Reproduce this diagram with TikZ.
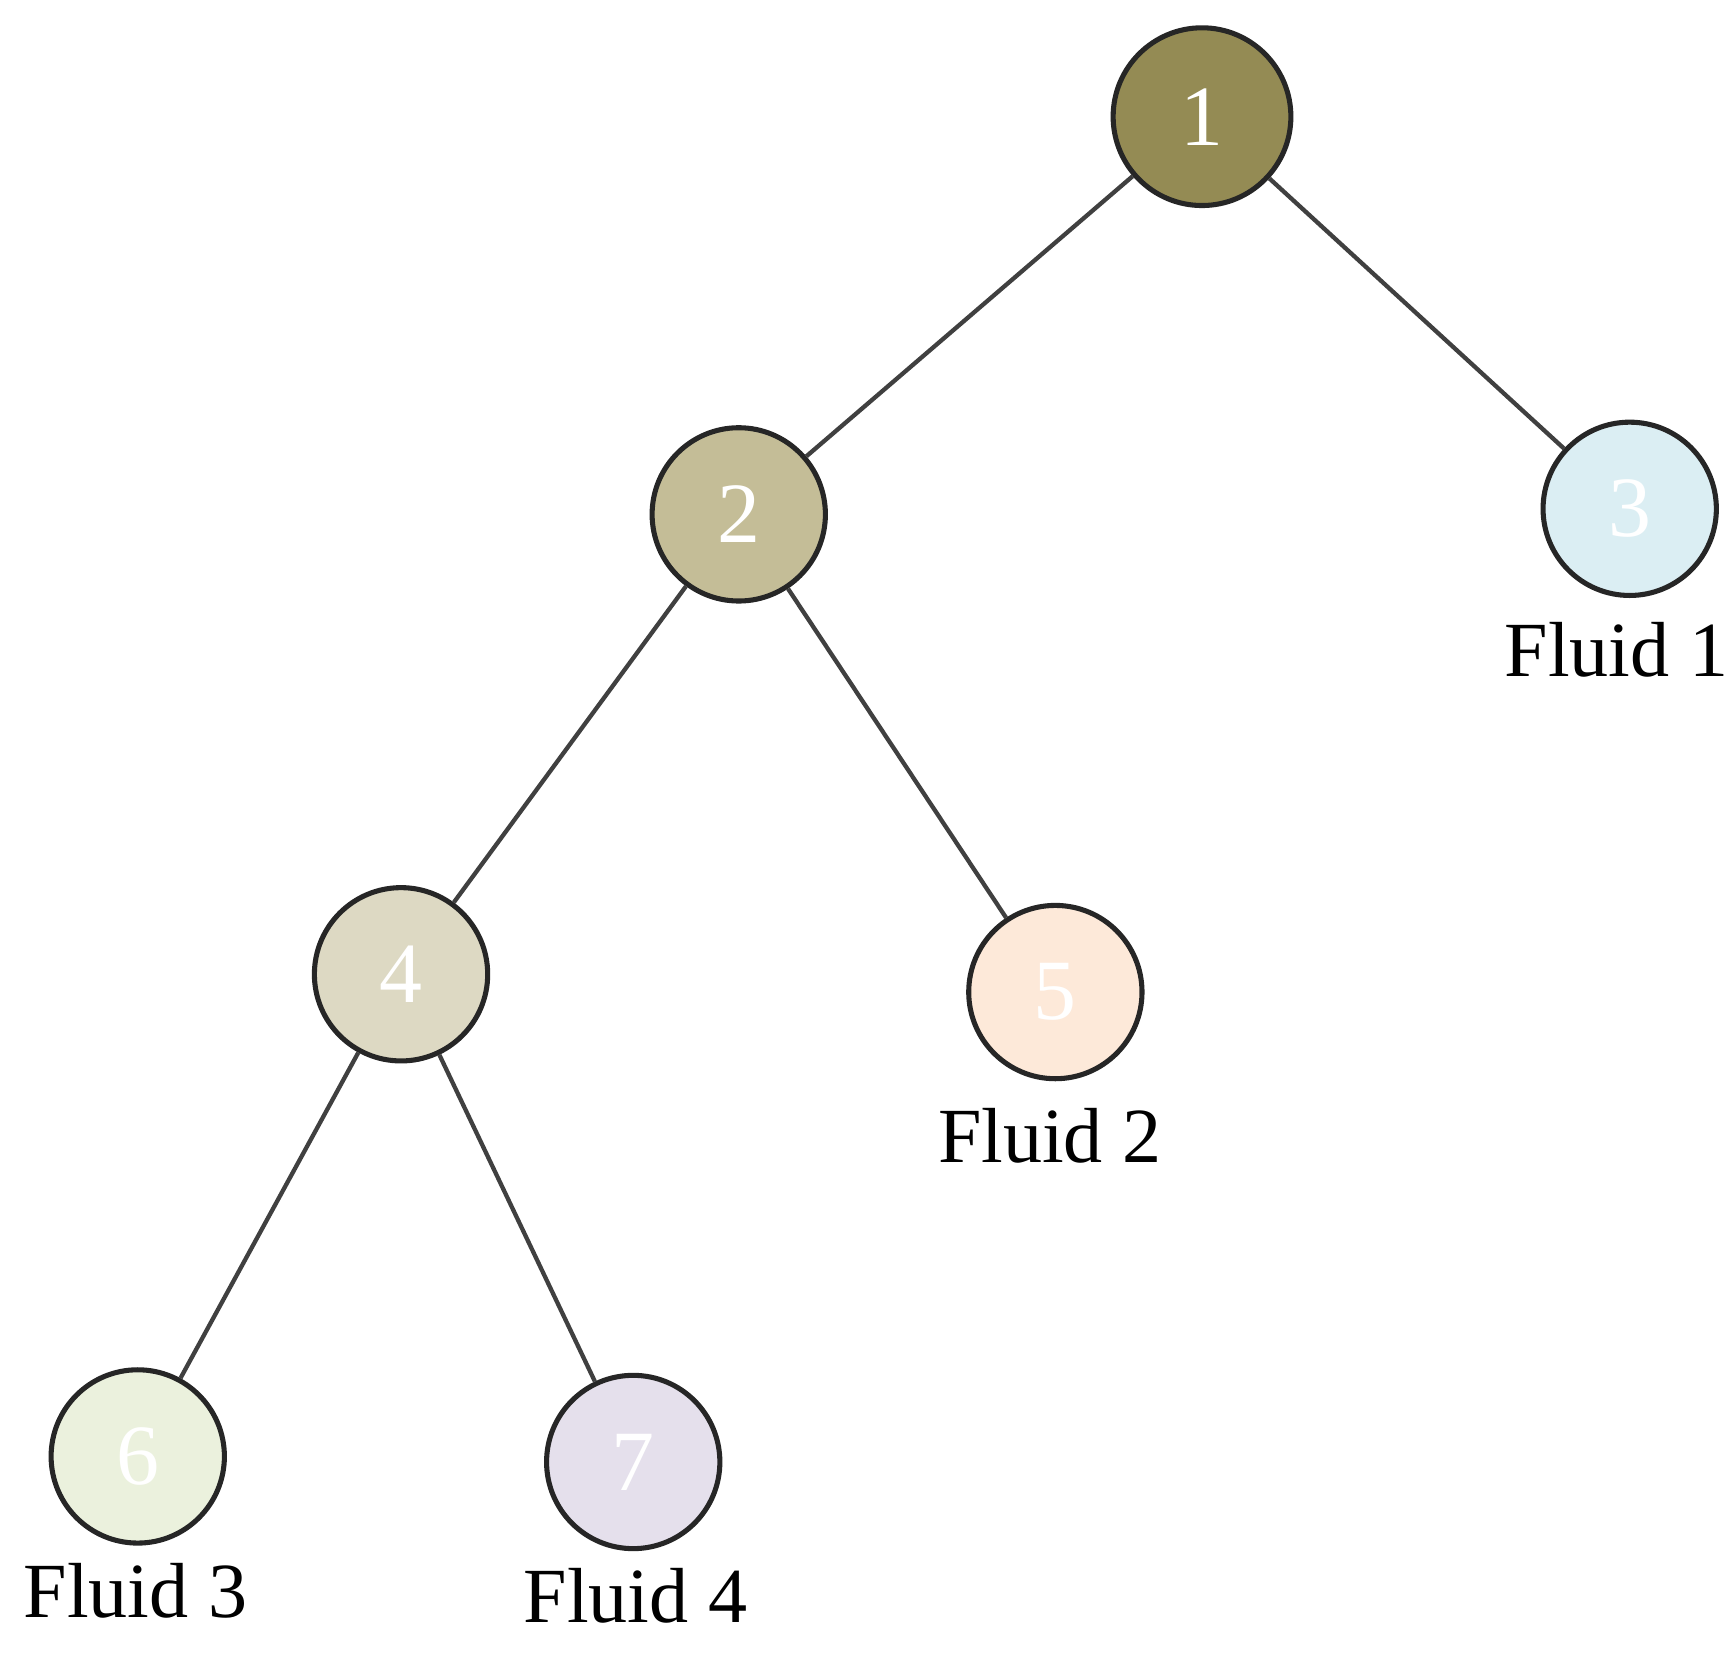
\documentclass[tikz,border=0pt]{standalone}
\usepackage{fontspec}
\setmainfont{Liberation Serif}
\usetikzlibrary{positioning}
\definecolor{cOne}{HTML}{948B54}
\definecolor{cTwo}{HTML}{C4BD97}
\definecolor{cThree}{HTML}{DBEEF3}
\definecolor{cFour}{HTML}{DDD9C3}
\definecolor{cFive}{HTML}{FDE9D9}
\definecolor{cSix}{HTML}{EBF1DD}
\definecolor{cSeven}{HTML}{E5E0EC}
\tikzset{
  vtx/.style={draw=black!85, line width=1.3pt, circle, minimum size=1.56cm, inner sep=0pt, text=white, font=\fontsize{22}{24}\selectfont},
  lbl/.style={font=\fontsize{20}{22}\selectfont, inner sep=0pt},
  edge/.style={draw=black!75, line width=1.1pt}
}
\begin{document}
\begin{tikzpicture}
        \useasboundingbox (0,0) rectangle (15.6,-14.97);
        % Tree nodes
        \node[vtx, fill=cOne, minimum size=1.6cm] (n1) at (10.82,-1.05) {1};
        \node[vtx, fill=cTwo] (n2) at (6.65,-4.63) {2};
        \node[vtx, fill=cThree] (n3) at (14.67,-4.58) {3};
        \node[vtx, fill=cFour] (n4) at (3.61,-8.77) {4};
        \node[vtx, fill=cFive] (n5) at (9.50,-8.93) {5};
        \node[vtx, fill=cSix] (n6) at (1.24,-13.11) {6};
        \node[vtx, fill=cSeven] (n7) at (5.70,-13.16) {7};
        
        % Fluid labels
        \node[lbl] (f1) at (14.55,-5.85) {Fluid 1};
        \node[lbl] (f2) at (9.45,-10.22) {Fluid 2};
        \node[lbl] (f3) at (1.22,-14.32) {Fluid 3};
        \node[lbl] (f4) at (5.72,-14.36) {Fluid 4};
        
        % Edges
        \draw[edge] (n1) -- (n2);
        \draw[edge] (n1) -- (n3);
        \draw[edge] (n2) -- (n4);
        \draw[edge] (n2) -- (n5);
        \draw[edge] (n4) -- (n6);
        \draw[edge] (n4) -- (n7);
\end{tikzpicture}
\end{document}
